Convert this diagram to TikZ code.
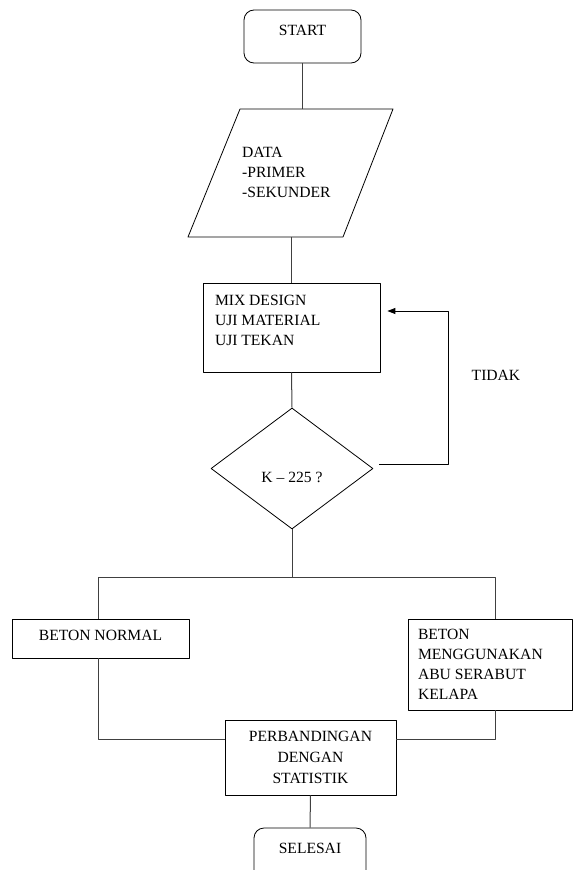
\documentclass[tikz,border=0pt]{standalone}
\usepackage{fontspec}
\setmainfont{Liberation Serif}
\usetikzlibrary{shapes.geometric,arrows.meta}
\tikzset{
  box/.style={draw, rectangle, line width=0.8pt, inner sep=0pt},
  term/.style={box, rounded corners=10pt, minimum height=53pt, text height=10pt, text depth=13pt},
  line/.style={draw=black!75, line width=1pt},
}
\begin{document}
\begin{tikzpicture}[x=1pt, y=-1pt, line join=round, >={Triangle[length=8pt,width=6pt]}, font=\fontsize{15.6}{20}\selectfont]
	\useasboundingbox (0,0) rectangle (573,870);
	
	\node[term, minimum width=117pt] (start) at (302.5,36.5) {START};
	
	\path
	(240,109) coordinate (D1)
	(393,109) coordinate (D2)
	(343,237) coordinate (D3)
	(188,237) coordinate (D4);
	\draw[line width=0.8pt] (D1) -- (D2) -- (D3) -- (D4) -- cycle;
	\node[align=left, anchor=west, inner sep=0pt] (data) at (242,172) {DATA\\-PRIMER\\-SEKUNDER};
	
	\node[box, inner xsep=12pt, inner ysep=12pt] (mix) at (291.5,327.5)
	{\parbox[c][65pt][t]{153pt}{MIX DESIGN\\UJI MATERIAL\\UJI TEKAN}};
	
	\node[diamond, draw, line width=0.8pt, minimum width=162pt, minimum height=121pt, inner sep=0pt,
	text height=28pt, text depth=0pt] (dec) at (292,468.5) {K – 225 ?};
	
	\node (tidak) at (496,375) {TIDAK};
	
	\node[box, minimum width=177pt, minimum height=39pt, text height=10pt, text depth=7pt] (normal) at (100.5,638.5) {BETON NORMAL};
	
	\node[box, inner xsep=10pt, inner ysep=10pt] (abu) at (490.25,664.5)
	{\parbox[c][71pt][t]{144.5pt}{BETON\\MENGGUNAKAN\\ABU SERABUT\\KELAPA}};
	
	\node[box, minimum width=171pt, minimum height=75pt, align=center, font=\fontsize{15.6}{21}\selectfont] (perb) at (310.5,757.5)
	{PERBANDINGAN\\DENGAN\\STATISTIK};
	
	\node[term, minimum width=112pt] (selesai) at (310,854.5) {SELESAI};
	
	% connectors
	\draw[line] (start.south) -- (start |- D1);
	\draw[line] (mix |- D4) -- (mix.north);
	\draw[line] (mix.south) -- (dec.north);
	
	\coordinate (back) at (448,311);
	\draw[->, line width=1pt] ([shift={(6,-4)}]dec.east) -| (back) -- ([xshift=7pt]mix.east |- back);
	
	\path
	(98,577) coordinate (L)
	(495,577) coordinate (R)
	(98,739) coordinate (LB)
	(495,739) coordinate (RB);
	\draw[line] (dec.south) -- (dec.south |- L);
	\draw[line] (normal.north -| L) -- (L) -- (R) -- (R |- abu.north);
	\draw[line] (normal.south -| L) -- (LB) -- (LB -| perb.west);
	\draw[line] (abu.south -| R) -- (RB) -- (RB -| perb.east);
	\draw[line] (perb.south) -- (selesai.north);
\end{tikzpicture}
\end{document}
